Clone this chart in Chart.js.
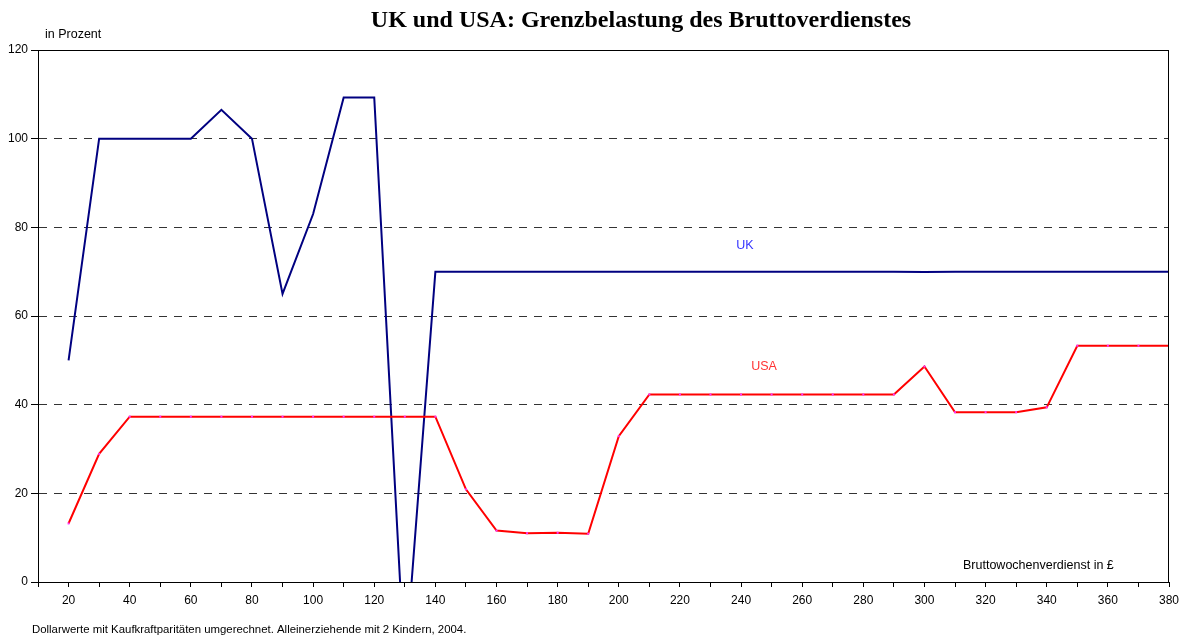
<!DOCTYPE html>
<html>
<head>
<meta charset="utf-8">
<script src="https://cdn.jsdelivr.net/npm/chart.js@4/dist/chart.umd.min.js"></script>
<style>
html,body{margin:0;padding:0;background:#fff;}
#wrap{width:1190px;height:640px;position:relative;}
</style>
</head>
<body>
<div id="wrap"><canvas id="c" width="1190" height="640"></canvas></div>
<script>
const earnings = [20,30,40,50,60,70,80,90,100,110,120,130,140,150,160,170,180,190,200,210,220,230,240,250,260,270,280,290,300,310,320,330,340,350,360,370,380];
const ukValues = [50,100,100,100,100,106.5,100,65,83,109.3,109.3,-20,70,70,70,70,70,70,70,70,70,70,70,70,70,70,70,70,69.9,70,70,70,70,70,70,70,70];
const usaValues = [13.2,28.9,37.3,37.3,37.3,37.3,37.3,37.3,37.3,37.3,37.3,37.3,37.3,20.9,11.6,11.0,11.1,10.9,32.9,42.3,42.3,42.3,42.3,42.3,42.3,42.3,42.3,42.3,48.6,38.3,38.3,38.3,39.4,53.3,53.3,53.3,53.3];
const yTicks = [0,20,40,60,80,100,120];
const titleText = 'UK und USA: Grenzbelastung des Bruttoverdienstes';
const yAxisTitle = 'in Prozent';
const xAxisTitle = 'Bruttowochenverdienst in £';
const footnote = 'Dollarwerte mit Kaufkraftparitäten umgerechnet. Alleinerziehende mit 2 Kindern, 2004.';
const seriesNames = ['UK','USA'];

const toPoints = vals => earnings.map((x,i)=>({x:x,y:vals[i]}));

const textPlugin = {
  id:'texts',
  afterDraw(chart){
    const ctx = chart.ctx, a = chart.chartArea;
    ctx.save();
    ctx.strokeStyle = '#000'; ctx.lineWidth = 1;
    ctx.strokeRect(Math.round(a.left)+0.5, Math.round(a.top)+0.5, Math.round(a.right-a.left)-1, Math.round(a.bottom-a.top));
    ctx.fillStyle = '#000';
    ctx.font = 'bold 24px "Liberation Serif", "Times New Roman", serif';
    ctx.textAlign = 'center'; ctx.textBaseline = 'middle';
    ctx.fillText(titleText, 641, 21);
    ctx.font = '12.5px "Liberation Sans", Arial, sans-serif';
    ctx.textAlign = 'left';
    ctx.fillText(yAxisTitle, 45, 35);
    ctx.fillText(xAxisTitle, 963, 566);
    ctx.font = '11.4px "Liberation Sans", Arial, sans-serif';
    ctx.fillText(footnote, 32, 630);
    ctx.font = '12.5px "Liberation Sans", Arial, sans-serif';
    ctx.textAlign = 'center';
    ctx.fillStyle = '#3333ff';
    ctx.fillText(seriesNames[0], 745, 246);
    ctx.fillStyle = '#ff3333';
    ctx.fillText(seriesNames[1], 764, 367);
    ctx.restore();
  }
};

new Chart(document.getElementById('c'), {
  type:'line',
  data:{
    datasets:[
      {label:seriesNames[0], data:toPoints(ukValues), borderColor:'#000080', borderWidth:2, pointRadius:0, tension:0, order:2},
      {label:seriesNames[1], data:toPoints(usaValues), borderColor:'#ff0000', borderWidth:2, pointRadius:1.4, pointStyle:'rect', pointBackgroundColor:'#ff33ff', pointBorderWidth:0, tension:0, order:1}
    ]
  },
  options:{
    responsive:false,
    animation:false,
    devicePixelRatio:1,
    layout:{padding:{left:0,right:21,top:50,bottom:0}},
    plugins:{legend:{display:false},tooltip:{enabled:false},title:{display:false}},
    scales:{
      x:{
        type:'linear', min:10, max:380,
        afterFit(s){ s.height = 58; },
        afterBuildTicks(s){ s.ticks = earnings.concat([10]).sort((p,q)=>p-q).map(v=>({value:v})); },
        ticks:{autoSkip:false, maxRotation:0, color:'#000', padding:6,
          font:{family:'"Liberation Sans", Arial, sans-serif', size:12},
          callback:(v)=> (v%20===0 ? String(v) : '')},
        grid:{drawOnChartArea:false, drawTicks:true, tickLength:5, color:'#000'},
        border:{display:true,color:'#000',width:1}
      },
      y:{
        min:0, max:120,
        afterFit(s){ s.width = 38; },
        afterBuildTicks(s){ s.ticks = yTicks.map(v=>({value:v})); },
        ticks:{color:'#000', padding:3, font:{family:'"Liberation Sans", Arial, sans-serif', size:12}},
        grid:{color:'#333', lineWidth:1, tickLength:7, tickBorderDash:[], tickColor:'#000', drawTicks:true},
        border:{display:true,color:'#000',width:1,dash:[8,7]}
      }
    }
  },
  plugins:[textPlugin]
});
</script>
</body>
</html>
